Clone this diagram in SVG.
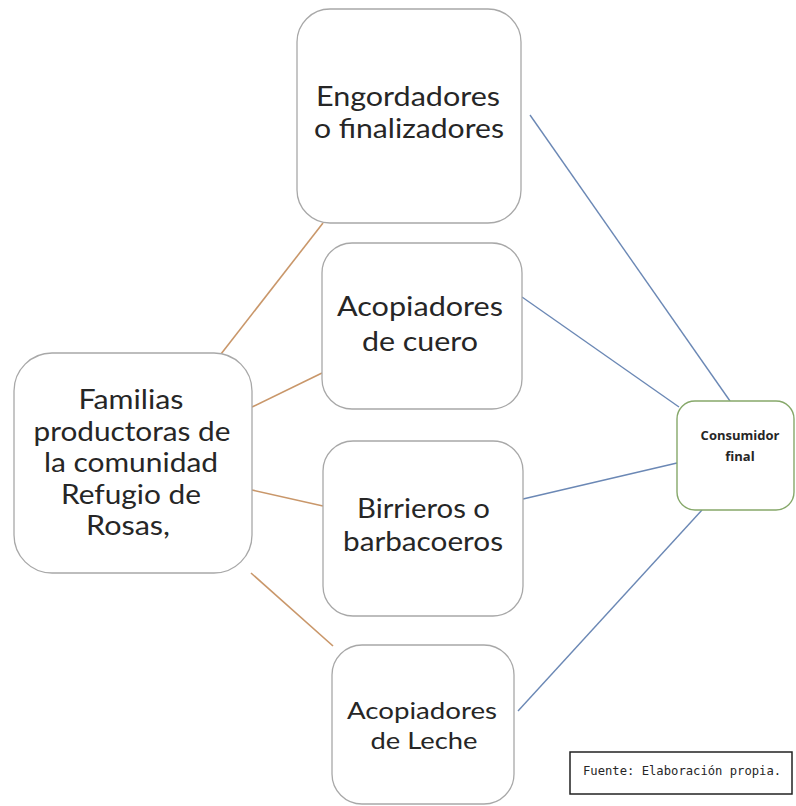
<svg xmlns="http://www.w3.org/2000/svg" width="796" height="806" viewBox="0 0 796 806">
<style>
.box{fill:#fff;stroke:#a8a8a8;stroke-width:1.3}
.cbox{fill:#fff;stroke:#86a86a;stroke-width:1.4}
.fbox{fill:#fff;stroke:#222;stroke-width:1.5}
.t{font-family:Lato,"Open Sans","Liberation Sans",sans-serif;font-size:26px;fill:#262626;text-anchor:middle}
.tl{font-size:24px}
.ts{font-family:"Open Sans","Liberation Sans",sans-serif;font-size:13px;font-weight:bold;fill:#262626;text-anchor:middle}
.tm{font-family:"DejaVu Sans Mono","Liberation Mono",monospace;font-size:12.2px;fill:#262626}
.o{stroke:#c9976a;stroke-width:1.6;fill:none}
.b{stroke:#6b88b5;stroke-width:1.4;fill:none}
</style>
<rect width="796" height="806" fill="#fff"/>
<g id="connectors">
<line class="o" x1="221" y1="354" x2="323" y2="223"/>
<line class="o" x1="252" y1="407" x2="322" y2="373"/>
<line class="o" x1="252" y1="490" x2="323" y2="506"/>
<line class="o" x1="251" y1="573" x2="333" y2="646"/>
<line class="b" x1="530" y1="115" x2="730" y2="401"/>
<line class="b" x1="522" y1="297" x2="679" y2="407"/>
<line class="b" x1="523" y1="499" x2="677" y2="463"/>
<line class="b" x1="518" y1="711" x2="702" y2="510"/>
</g>
<g id="engordadores">
<rect class="box" x="297" y="9" width="224" height="214" rx="33"/>
<text class="t" x="408" y="106" textLength="184" lengthAdjust="spacingAndGlyphs">Engordadores</text>
<text class="t" x="409" y="138" textLength="190" lengthAdjust="spacingAndGlyphs">o finalizadores</text>
</g>
<g id="acopiadores-cuero">
<rect class="box" x="322" y="243" width="200" height="166" rx="30"/>
<text class="t" x="420" y="316" textLength="166" lengthAdjust="spacingAndGlyphs">Acopiadores</text>
<text class="t" x="420" y="351" textLength="116" lengthAdjust="spacingAndGlyphs">de cuero</text>
</g>
<g id="familias">
<rect class="box" x="14" y="353" width="238" height="220" rx="38"/>
<text class="t" x="131" y="409" textLength="105" lengthAdjust="spacingAndGlyphs">Familias</text>
<text class="t" x="132" y="440.5" textLength="197" lengthAdjust="spacingAndGlyphs">productoras de</text>
<text class="t" x="131" y="472" textLength="174" lengthAdjust="spacingAndGlyphs">la comunidad</text>
<text class="t" x="131" y="503.5" textLength="140" lengthAdjust="spacingAndGlyphs">Refugio de</text>
<text class="t" x="128" y="535" textLength="84" lengthAdjust="spacingAndGlyphs">Rosas,</text>
</g>
<g id="birrieros">
<rect class="box" x="323" y="441" width="200" height="175" rx="30"/>
<text class="t" x="423.5" y="518" textLength="133" lengthAdjust="spacingAndGlyphs">Birrieros o</text>
<text class="t" x="423" y="551" textLength="160" lengthAdjust="spacingAndGlyphs">barbacoeros</text>
</g>
<g id="acopiadores-leche">
<rect class="box" x="332" y="645" width="182" height="159" rx="30"/>
<text class="t tl" x="422" y="719" textLength="150" lengthAdjust="spacingAndGlyphs">Acopiadores</text>
<text class="t tl" x="424" y="749" textLength="107" lengthAdjust="spacingAndGlyphs">de Leche</text>
</g>
<g id="consumidor">
<rect class="cbox" x="677" y="401" width="117" height="109" rx="18"/>
<text class="ts" x="740" y="440">Consumidor</text>
<text class="ts" x="740" y="461">final</text>
</g>
<g id="fuente">
<rect class="fbox" x="570" y="752" width="222" height="42"/>
<text class="tm" x="583" y="775">Fuente: Elaboración propia.</text>
</g>
</svg>
